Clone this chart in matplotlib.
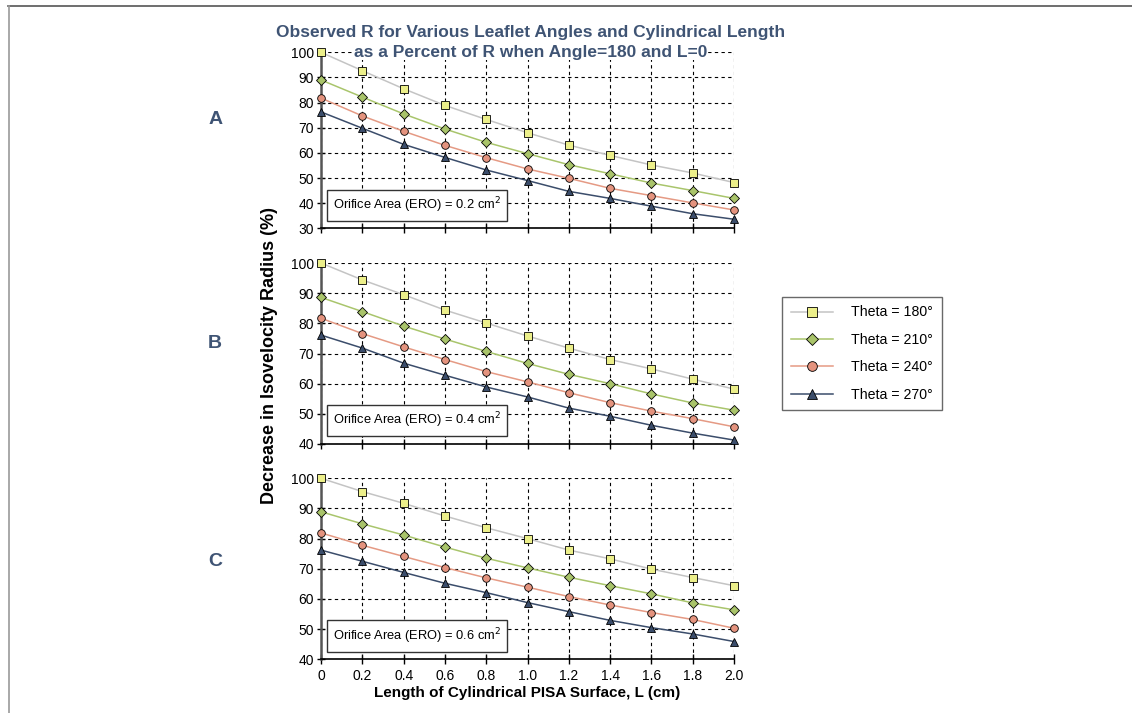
import numpy as np
import matplotlib.pyplot as plt
from matplotlib.lines import Line2D

plt.rcParams['font.family'] = ['Liberation Sans', 'DejaVu Sans']

# Cylinder length L (cm)
L = [0, 0.2, 0.4, 0.6, 0.8, 1.0, 1.2, 1.4, 1.6, 1.8, 2.0]
xtick_labels = ['0', '0.2', '0.4', '0.6', '0.8', '1.0', '1.2', '1.4', '1.6', '1.8', '2.0']

# Panel A: ERO = 0.2 cm2
a_180 = [100, 92.7, 85.5, 78.9, 73.3, 68.0, 63.1, 59.0, 55.2, 52.0, 48.2]
a_210 = [89.0, 82.2, 75.5, 69.5, 64.2, 59.7, 55.3, 51.7, 48.0, 45.0, 41.9]
a_240 = [81.8, 74.7, 68.6, 63.0, 58.1, 53.6, 49.9, 45.9, 43.0, 40.1, 37.3]
a_270 = [76.3, 69.8, 63.4, 58.2, 53.2, 49.0, 44.7, 41.9, 38.8, 35.8, 33.6]

# Panel B: ERO = 0.4 cm2
b_180 = [100, 94.4, 89.5, 84.4, 80.1, 75.8, 71.8, 68.0, 64.9, 61.5, 58.2]
b_210 = [88.6, 83.9, 79.1, 74.8, 70.7, 66.7, 63.1, 60.0, 56.6, 53.6, 51.2]
b_240 = [81.7, 76.6, 72.2, 68.0, 64.0, 60.6, 57.0, 53.7, 50.9, 48.4, 45.7]
b_270 = [76.1, 71.8, 66.8, 62.8, 58.9, 55.6, 51.9, 49.2, 46.2, 43.6, 41.3]

# Panel C: ERO = 0.6 cm2
c_180 = [100, 95.6, 91.7, 87.5, 83.6, 80.0, 76.2, 73.3, 69.9, 67.1, 64.4]
c_210 = [88.9, 84.9, 81.2, 77.2, 73.5, 70.3, 67.2, 64.4, 61.7, 58.7, 56.4]
c_240 = [81.9, 77.8, 74.1, 70.4, 67.0, 63.9, 60.8, 58.0, 55.5, 53.2, 50.3]
c_270 = [76.2, 72.5, 68.8, 65.2, 62.1, 58.8, 55.8, 52.9, 50.5, 48.4, 45.9]

labels = ['Theta = 180°', 'Theta = 210°', 'Theta = 240°', 'Theta = 270°']
panels = [
    ('A', '0.2', [a_180, a_210, a_240, a_270], (30, 100)),
    ('B', '0.4', [b_180, b_210, b_240, b_270], (40, 100)),
    ('C', '0.6', [c_180, c_210, c_240, c_270], (40, 100)),
]

line_colors = ['#c4c4c4', '#a9c56c', '#e59a84', '#3b4d6b']
face_colors = ['#ecef8a', '#a9c46a', '#e4937e', '#3b4d6b']
markers = ['s', 'D', 'o', '^']
msizes = [6.0, 5.0, 5.5, 5.5]
navy = '#3f5474'

fig = plt.figure(figsize=(11.32, 7.13), dpi=100)

# axes positions (figure fraction)
left, width = 0.2836, 0.3648
rows = [(0.6798, 0.2468), (0.3773, 0.2538), (0.0753, 0.2539)]
tag_y = [1 - 120 / 713, 1 - 344 / 713, 1 - 561 / 713]

for i, (tag, ero, series, ylim) in enumerate(panels):
    bottom, height = rows[i]
    ax = fig.add_axes([left, bottom, width, height])
    for s, lc, fc, m, ms in zip(series, line_colors, face_colors, markers, msizes):
        ax.plot(L, s, color=lc, lw=1.1, marker=m, ms=ms, mfc=fc, mec='black',
                mew=0.6, clip_on=False, zorder=3)
    ax.set_xlim(0, 2.0)
    ax.set_ylim(*ylim)
    ax.set_xticks(L)
    ax.set_yticks(np.arange(ylim[0], 101, 10))
    ax.grid(True, color='black', ls=(0, (3, 3)), lw=0.8)
    for sp in ['top', 'right']:
        ax.spines[sp].set_visible(False)
    ax.spines['left'].set_color('#555555')
    ax.spines['left'].set_linewidth(1.8)
    ax.spines['bottom'].set_linewidth(1.2)
    ax.tick_params(axis='x', direction='inout', length=7, width=1, labelsize=10)
    ax.tick_params(axis='y', direction='inout', length=6, width=1, labelsize=10, pad=2)
    if i < 2:
        ax.set_xticklabels([])
    else:
        ax.set_xticklabels(xtick_labels)
        ax.set_xlabel('Length of Cylindrical PISA Surface, L (cm)', fontsize=11,
                      fontweight='bold', labelpad=2)
    ax.text(0.029, 0.075, 'Orifice Area (ERO) = ' + ero + ' cm$^2$', transform=ax.transAxes,
            fontsize=9.3, ha='left', va='bottom', zorder=5,
            bbox=dict(boxstyle='square,pad=0.45', fc='white', ec='#333333', lw=1))
    fig.text(0.19, tag_y[i], tag, fontsize=14, fontweight='bold',
             color=navy, ha='center', va='center')

fig.text(0.4685, 1 - 32 / 713, 'Observed R for Various Leaflet Angles and Cylindrical Length',
         fontsize=12.5, fontweight='bold', color=navy, ha='center', va='center', zorder=10,
         bbox=dict(boxstyle='square,pad=0.05', fc='white', ec='none'))
fig.text(0.4685, 1 - 52 / 713, 'as a Percent of R when Angle=180 and L=0',
         fontsize=12.5, fontweight='bold', color=navy, ha='center', va='center', zorder=10,
         bbox=dict(boxstyle='square,pad=0.05', fc='white', ec='none'))

fig.text(270 / 1132, 1 - 355 / 713, 'Decrease in Isovelocity Radius (%)', rotation=90,
         fontsize=13, fontweight='bold', ha='center', va='center')

handles = [Line2D([], [], color=lc, lw=1.1, marker=m, ms=ms + 1.5, mfc=fc, mec='black', mew=0.6)
           for lc, fc, m, ms in zip(line_colors, face_colors, markers, msizes)]
leg = fig.legend(handles, labels, loc='upper left', bbox_to_anchor=(782 / 1132, 1 - 297 / 713),
                 borderaxespad=0, fontsize=10.2, frameon=True, fancybox=False,
                 edgecolor='#444444', handlelength=3.0, labelspacing=0.95,
                 borderpad=0.6, handletextpad=1.3)
leg.get_frame().set_linewidth(1)

# page frame lines (top and left)
fig.add_artist(Line2D([8 / 1132, 1], [1 - 6 / 713, 1 - 6 / 713], transform=fig.transFigure,
                      color='#555555', lw=1.2))
fig.add_artist(Line2D([9 / 1132, 9 / 1132], [0, 1 - 6 / 713], transform=fig.transFigure,
                      color='#999999', lw=1.2))

fig.savefig('out.png', dpi=100)
